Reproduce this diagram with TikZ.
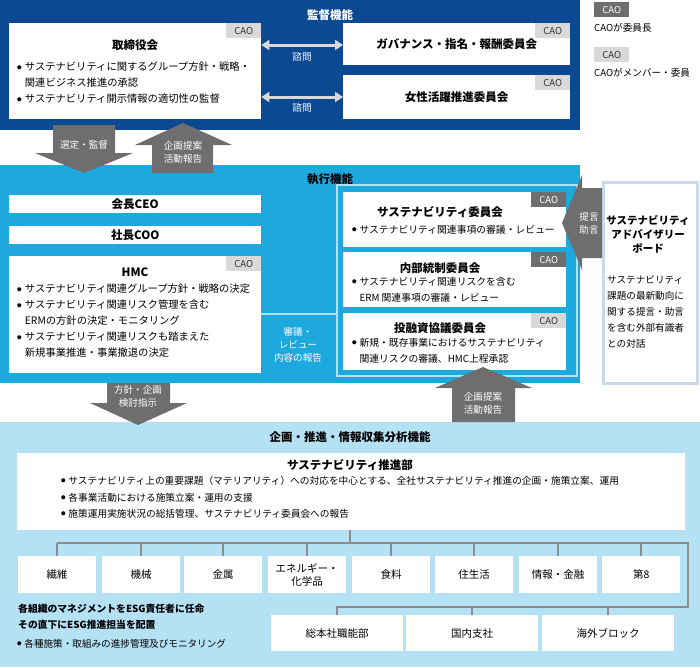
\documentclass[tikz,border=0pt]{standalone}
\usepackage{fontspec}
\setmainfont{Noto Sans CJK JP}
\usetikzlibrary{positioning,arrows.meta}
\definecolor{kanblue}{HTML}{0B4A93}
\definecolor{shikblue}{HTML}{1DA8DE}
\definecolor{kikblue}{HTML}{B5E1F5}
\definecolor{arrowgray}{HTML}{6E6E6E}
\definecolor{taglight}{HTML}{D9D9D9}
\definecolor{linegray}{HTML}{8C8C8C}
\definecolor{boardline}{HTML}{C9D9EC}
\tikzset{
  box/.style={fill=white,anchor=north west,inner sep=0},
  cao/.style={anchor=north east,minimum width=35,minimum height=15,inner sep=0,font=\fontsize{9.5}{9.5}\selectfont},
  caol/.style={cao,fill=taglight,text=black!80},
  caod/.style={cao,fill=arrowgray,text=white},
  ttl/.style={font=\fontsize{11.5}{14}\selectfont\bfseries,inner sep=0},
  wttl/.style={ttl,text=white},
  txt/.style={font=\fontsize{10.3}{16}\selectfont,align=left,anchor=north west,inner sep=0},
  ctxt/.style={txt,font=\fontsize{9.8}{16}\selectfont},
  atxt/.style={font=\fontsize{9.6}{13}\selectfont,align=center,text=white,inner sep=0},
  tree/.style={draw=linegray,line width=2pt},
}
\newcommand{\bl}{\makebox[0.75em][l]{\raisebox{0.18em}{\fontsize{4.5}{5}\selectfont ●}}}
\newcommand{\hg}{\hspace*{0.75em}}
\begin{document}
\begin{tikzpicture}[x=1pt,y=-1pt]
\useasboundingbox (0,0) rectangle (700,667);

% 監督機能
\fill[kanblue] (0,0) rectangle (580,130);
\node[wttl] (kantoku) at (330,15) {監督機能};
\node[box,minimum width=252,minimum height=96] (tori) at (9,23) {};
\node[caol] at (tori.north east) {CAO};
\node[ttl] (toriT) at (135,45) {取締役会};
\node[txt] (toriB) at (17,62) {\bl サステナビリティに関するグループ方針・戦略・\\\hg 関連ビジネス推進の承認\\\bl サステナビリティ開示情報の適切性の監督};
\node[box,minimum width=227,minimum height=42] (gov) at (343,23) {};
\node[caol] at (gov.north east) {CAO};
\node[ttl] at (gov.center) {ガバナンス・指名・報酬委員会};
\node[box,minimum width=227,minimum height=44] (jos) at (343,75) {};
\node[caol] at (jos.north east) {CAO};
\node[ttl] at (jos.center) {女性活躍推進委員会};
\draw[taglight,line width=3pt,<->,>={Triangle[width=10pt,length=8pt]}] (tori.east |- 0,45) -- (gov.west |- 0,45);
\draw[taglight,line width=3pt,<->,>={Triangle[width=10pt,length=8pt]}] (tori.east |- 0,97) -- (jos.west |- 0,97);
\node[atxt] at (302,57) {諮問};
\node[atxt] at (302,108) {諮問};

% 凡例
\node[caod,anchor=north west] (lg1) at (594,2) {CAO};
\node[txt,anchor=west,font=\fontsize{9.6}{12}\selectfont] at (594,28) {CAOが委員長};
\node[caol,anchor=north west] (lg2) at (594,47) {CAO};
\node[txt,anchor=west,font=\fontsize{9.6}{12}\selectfont] at (594,73) {CAOがメンバー・委員};

% 執行機能
\fill[shikblue] (0,165) rectangle (580,383);
\fill[arrowgray] (53,125) -- (115,125) -- (115,153) -- (133,153) -- (84,173) -- (35,153) -- (53,153) -- cycle;
\fill[arrowgray] (152,173) -- (213,173) -- (213,145) -- (232,145) -- (183,123) -- (135,145) -- (152,145) -- cycle;
\node[atxt] at (84,145) {選定・監督};
\node[atxt] at (183,152) {企画提案\\活動報告};
\node[wttl,text=black] (shikko) at (330,179) {執行機能};
\node[box,minimum width=252,minimum height=18] (ceo) at (9,195) {};
\node[ttl] at (ceo.center) {会長CEO};
\node[box,minimum width=252,minimum height=18] (coo) at (9,226) {};
\node[ttl] at (coo.center) {社長COO};
\node[box,minimum width=252,minimum height=117] (hmc) at (9,256) {};
\node[caol] at (hmc.north east) {CAO};
\node[ttl] at (135,272) {HMC};
\node[txt] at (17,284) {\bl サステナビリティ関連グループ方針・戦略の決定\\\bl サステナビリティ関連リスク管理を含む\\\hg ERMの方針の決定・モニタリング\\\bl サステナビリティ関連リスクも踏まえた\\\hg 新規事業推進・事業撤退の決定};
\draw[white!65!shikblue,line width=2pt] (337,185) rectangle (577,376);
\node[box,minimum width=223,minimum height=55] (sust) at (343,192) {};
\node[caod] at (sust.north east) {CAO};
\node[ttl] at (440,212) {サステナビリティ委員会};
\node[ctxt] at (352,225) {\bl サステナビリティ関連事項の審議・レビュー};
\node[box,minimum width=223,minimum height=55] (naibu) at (343,252) {};
\node[caod] at (naibu.north east) {CAO};
\node[ttl] at (440,268) {内部統制委員会};
\node[ctxt] at (352,277) {\bl サステナビリティ関連リスクを含む\\\hg ERM 関連事項の審議・レビュー};
\node[box,minimum width=223,minimum height=57] (toyu) at (343,313) {};
\node[caol] at (toyu.north east) {CAO};
\node[ttl] at (440,328) {投融資協議委員会};
\node[ctxt] at (352,338) {\bl 新規・既存事業におけるサステナビリティ\\\hg 関連リスクの審議、HMC上程承認};
\coordinate (frameW) at (336,314);
\draw[white!65!shikblue,line width=1.5pt] (hmc.east |- frameW) -- (frameW);
\node[atxt] at (298,345) {審議・\\レビュー\\内容の報告};

% アドバイザリーボード
\node[box,draw=boardline,line width=2.5pt,minimum width=94,minimum height=201] (board) at (602,181) {};
\fill[arrowgray] (602,188) -- (582,188) -- (582,175) -- (562,223) -- (582,270) -- (582,258) -- (602,258) -- cycle;
\node[atxt] at (589,223) {提言\\助言};
\node[ttl,align=center,font=\fontsize{10.5}{14}\selectfont\bfseries] at (648,234) {サステナビリティ\\アドバイザリー\\ボード};
\node[txt,font=\fontsize{9.6}{16}\selectfont] at (607,275) {サステナビリティ\\課題の最新動向に\\関する提言・助言\\を含む外部有識者\\との対話};

% 企画・推進・情報収集分析機能
\fill[kikblue] (0,422) rectangle (700,667);
\fill[arrowgray] (107,383) -- (170,383) -- (170,403) -- (187,403) -- (138,425) -- (90,403) -- (107,403) -- cycle;
\node[atxt] at (138,396) {方針・企画\\検討指示};
\fill[arrowgray] (452,422) -- (515,422) -- (515,388) -- (532,388) -- (483,367) -- (435,388) -- (452,388) -- cycle;
\node[atxt] at (483,403) {企画提案\\活動報告};
\node[ttl] (kikaku) at (350,437) {企画・推進・情報収集分析機能};
\node[box,minimum width=668,minimum height=77] (suishin) at (17,453) {};
\node[ttl] at (350,465) {サステナビリティ推進部};
\node[txt,font=\fontsize{9.7}{16.5}\selectfont] at (61,476) {\bl サステナビリティ上の重要課題（マテリアリティ）への対応を中心とする、全社サステナビリティ推進の企画・施策立案、運用\\\bl 各事業活動における施策立案・運用の支援\\\bl 施策運用実施状況の総括管理、サステナビリティ委員会への報告};

\foreach \name/\xx/\lab in {sen/18/繊維,kik/102/機械,kin/184/金属,ene/268/{エネルギー・\\化学品},sho/352/食料,jus/435/住生活,joh/519/情報・金融,dai/602/第8}{
  \node[box,minimum width=78,minimum height=37] (\name) at (\xx,556) {};
  \node[font=\fontsize{10.5}{13}\selectfont,align=center,inner sep=0] at (\name.center) {\lab};
}
\foreach \name/\xx/\lab in {sos/271/総本社職能部,koku/406/国内支社,kai/542/海外ブロック}{
  \node[box,minimum width=132,minimum height=36] (\name) at (\xx,615) {};
  \node[font=\fontsize{10.5}{13}\selectfont,inner sep=0] at (\name.center) {\lab};
}
\coordinate (bus1) at (350,543);
\coordinate (bus2) at (688,607);
\draw[tree] (suishin.south -| bus1) -- (bus1);
\draw[tree] (sen.north |- bus1) -- (sen.north) (sen.north |- bus1) -| (bus2) -| (sos.north);
\foreach \name in {kik,kin,ene,sho,jus,joh,dai}{\draw[tree] (\name.north |- bus1) -- (\name.north);}
\foreach \name in {koku,kai}{\draw[tree] (\name.north |- bus2) -- (\name.north);}
\node[txt,font=\fontsize{9.8}{16}\selectfont\bfseries] at (18,604) {各組織のマネジメントをESG責任者に任命\\その直下にESG推進担当を配置};
\node[txt,font=\fontsize{9.6}{12}\selectfont] at (17,639) {\bl 各種施策・取組みの進捗管理及びモニタリング};
\end{tikzpicture}
\end{document}
